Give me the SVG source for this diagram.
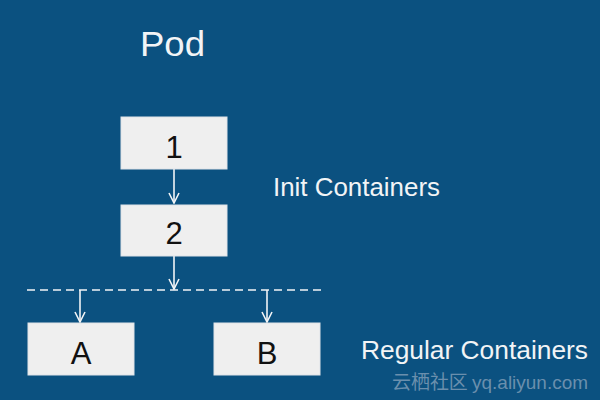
<svg xmlns="http://www.w3.org/2000/svg" width="600" height="400" viewBox="0 0 600 400">
<style>
.box{fill:#efefef;stroke:#dfe3e8;stroke-width:1}
.bt{font-family:"Liberation Sans",Arial,sans-serif;font-size:31px;fill:#111;text-anchor:middle}
.lbl{font-family:"Liberation Sans",Arial,sans-serif;fill:#f2f4f6}
.ln{stroke:#f2f4f6;stroke-width:1.6;fill:none}
</style>
<defs>
<marker id="ah" viewBox="0 0 12 12" refX="11" refY="6" markerWidth="12" markerHeight="12" markerUnits="userSpaceOnUse" orient="auto">
<path d="M1,1 L11,6 L1,11" fill="none" stroke="#f2f4f6" stroke-width="1.6"/>
</marker>
</defs>
<rect width="600" height="400" fill="#0b5180"/>
<text class="lbl" x="140" y="56" font-size="35" textLength="65" lengthAdjust="spacingAndGlyphs">Pod</text>
<text class="lbl" x="273" y="196" font-size="25" textLength="167" lengthAdjust="spacingAndGlyphs">Init Containers</text>
<text class="lbl" x="361" y="359" font-size="25" textLength="227" lengthAdjust="spacingAndGlyphs">Regular Containers</text>
<text x="392" y="389" font-family="'Noto Sans CJK SC',sans-serif" font-size="19" fill="#6a8fad" textLength="196" lengthAdjust="spacingAndGlyphs">云栖社区 <tspan font-family="'Liberation Sans',Arial,sans-serif">yq.aliyun.com</tspan></text>
<g id="connectors">
<line class="ln" x1="174" y1="169" x2="174" y2="203" marker-end="url(#ah)"/>
<line class="ln" x1="174" y1="256" x2="174" y2="289" marker-end="url(#ah)"/>
<line class="ln" x1="27" y1="290" x2="322" y2="290" stroke-dasharray="8,5"/>
<line class="ln" x1="80" y1="290" x2="80" y2="322" marker-end="url(#ah)"/>
<line class="ln" x1="267" y1="290" x2="267" y2="322" marker-end="url(#ah)"/>
</g>
<g id="node1"><rect class="box" x="121" y="117" width="106" height="52"/><text class="bt" x="174" y="158">1</text></g>
<g id="node2"><rect class="box" x="121" y="205" width="106" height="51"/><text class="bt" x="174" y="244">2</text></g>
<g id="nodeA"><rect class="box" x="28" y="323" width="106" height="52"/><text class="bt" x="81" y="364">A</text></g>
<g id="nodeB"><rect class="box" x="214" y="323" width="106" height="52"/><text class="bt" x="267" y="364">B</text></g>
</svg>
